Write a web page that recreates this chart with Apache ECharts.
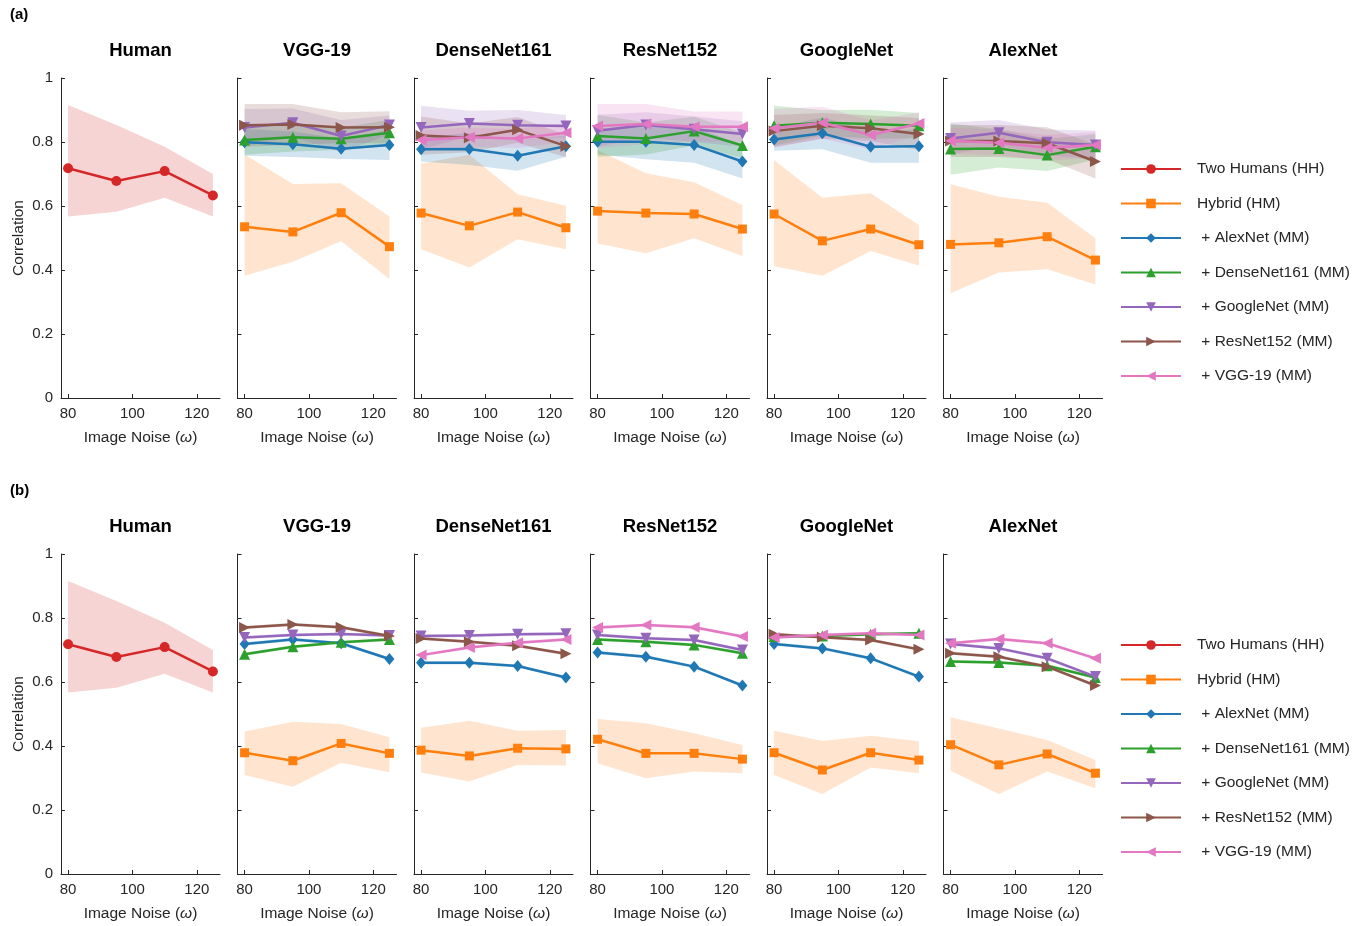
<!DOCTYPE html>
<html>
<head>
<meta charset="utf-8">
<script src="https://cdn.jsdelivr.net/npm/echarts@6/dist/echarts.min.js"></script>
<style>
  html, body { margin: 0; padding: 0; background: #ffffff; }
  #chart { width: 1369px; height: 926px; }
</style>
</head>
<body>
<div id="chart"></div>
<script>
// ---- shared axes / labels ----
const noiseLevels = [80, 95, 110, 125];
const xTicks = [80, 100, 120];
const yTicks = [0, 0.2, 0.4, 0.6, 0.8, 1];
const panelTitles = ['Human', 'VGG-19', 'DenseNet161', 'ResNet152', 'GoogleNet', 'AlexNet'];
const rowLabels = ['(a)', '(b)'];
const legendNames = ['Two Humans (HH)', 'Hybrid (HM)', ' + AlexNet (MM)', ' + DenseNet161 (MM)',
                     ' + GoogleNet (MM)', ' + ResNet152 (MM)', ' + VGG-19 (MM)'];
const mmKeys = ['alexnet', 'densenet', 'googlenet', 'resnet', 'vgg'];

// ---- Two humans (HH), same in both rows ----
const hhMean = [0.718, 0.678, 0.709, 0.633];
const hhLow  = [0.567, 0.582, 0.626, 0.567];
const hhHigh = [0.916, 0.853, 0.785, 0.700];

// ---- row (a) ----
const vgg19A = {
  hm: [0.535, 0.519, 0.579, 0.473], hmLo: [0.382, 0.426, 0.490, 0.372], hmHi: [0.761, 0.669, 0.671, 0.567],
  alexnet: [0.799, 0.793, 0.779, 0.791], alexnetSd: [0.042, 0.040, 0.032, 0.047],
  densenet: [0.806, 0.815, 0.810, 0.829], densenetSd: [0.046, 0.045, 0.035, 0.040],
  googlenet: [0.845, 0.860, 0.819, 0.853], googlenetSd: [0.058, 0.045, 0.050, 0.030],
  resnet: [0.852, 0.855, 0.845, 0.846], resnetSd: [0.067, 0.064, 0.048, 0.050]
};
const densenetA = {
  hm: [0.578, 0.538, 0.581, 0.532], hmLo: [0.465, 0.408, 0.496, 0.465], hmHi: [0.733, 0.760, 0.637, 0.601],
  alexnet: [0.777, 0.778, 0.757, 0.787], alexnetSd: [0.038, 0.050, 0.047, 0.033],
  googlenet: [0.845, 0.858, 0.852, 0.850], googlenetSd: [0.068, 0.040, 0.048, 0.034],
  resnet: [0.820, 0.813, 0.838, 0.787], resnetSd: [0.060, 0.045, 0.040, 0.035],
  vgg: [0.806, 0.815, 0.811, 0.829], vggSd: [0.030, 0.030, 0.030, 0.030]
};
const resnetA = {
  hm: [0.584, 0.578, 0.575, 0.528], hmLo: [0.483, 0.452, 0.499, 0.444], hmHi: [0.775, 0.702, 0.674, 0.603],
  alexnet: [0.801, 0.801, 0.791, 0.739], alexnetSd: [0.040, 0.055, 0.056, 0.053],
  densenet: [0.819, 0.811, 0.834, 0.789], densenetSd: [0.065, 0.050, 0.045, 0.040],
  googlenet: [0.835, 0.853, 0.840, 0.825], googlenetSd: [0.050, 0.040, 0.040, 0.040],
  vgg: [0.850, 0.856, 0.848, 0.848], vggSd: [0.069, 0.063, 0.047, 0.047]
};
const googlenetA = {
  hm: [0.575, 0.491, 0.528, 0.479], hmLo: [0.412, 0.382, 0.459, 0.414], hmHi: [0.744, 0.626, 0.640, 0.541],
  alexnet: [0.808, 0.827, 0.785, 0.787], alexnetSd: [0.035, 0.050, 0.050, 0.052],
  densenet: [0.851, 0.860, 0.856, 0.851], densenetSd: [0.062, 0.040, 0.045, 0.040],
  resnet: [0.834, 0.851, 0.843, 0.825], resnetSd: [0.050, 0.040, 0.040, 0.050],
  vgg: [0.843, 0.860, 0.822, 0.858], vggSd: [0.060, 0.050, 0.045, 0.035]
};
const alexnetA = {
  hm: [0.480, 0.485, 0.504, 0.431], hmLo: [0.327, 0.392, 0.402, 0.355], hmHi: [0.668, 0.629, 0.610, 0.499],
  densenet: [0.778, 0.780, 0.759, 0.785], densenetSd: [0.080, 0.060, 0.050, 0.040],
  googlenet: [0.811, 0.829, 0.799, 0.791], googlenetSd: [0.050, 0.040, 0.040, 0.045],
  resnet: [0.803, 0.803, 0.796, 0.739], resnetSd: [0.050, 0.050, 0.050, 0.053],
  vgg: [0.804, 0.798, 0.782, 0.791], vggSd: [0.040, 0.040, 0.040, 0.040]
};

// ---- row (b) ----
const vgg19B = {
  hm: [0.379, 0.354, 0.408, 0.377], hmLo: [0.309, 0.273, 0.348, 0.318], hmHi: [0.445, 0.476, 0.469, 0.427],
  alexnet: [0.719, 0.733, 0.721, 0.672], alexnetSd: [0.005, 0.005, 0.005, 0.005],
  densenet: [0.687, 0.710, 0.724, 0.733], densenetSd: [0.005, 0.005, 0.005, 0.005],
  googlenet: [0.739, 0.747, 0.750, 0.745], googlenetSd: [0.005, 0.005, 0.005, 0.005],
  resnet: [0.770, 0.780, 0.771, 0.744], resnetSd: [0.005, 0.005, 0.005, 0.005]
};
const densenetB = {
  hm: [0.387, 0.369, 0.393, 0.391], hmLo: [0.317, 0.289, 0.341, 0.339], hmHi: [0.457, 0.479, 0.448, 0.450],
  alexnet: [0.660, 0.660, 0.650, 0.614], alexnetSd: [0.005, 0.005, 0.005, 0.005],
  googlenet: [0.744, 0.745, 0.749, 0.751], googlenetSd: [0.005, 0.005, 0.005, 0.005],
  resnet: [0.736, 0.726, 0.713, 0.688], resnetSd: [0.005, 0.005, 0.005, 0.005],
  vgg: [0.684, 0.708, 0.723, 0.733], vggSd: [0.005, 0.005, 0.005, 0.005]
};
const resnetB = {
  hm: [0.421, 0.377, 0.377, 0.359], hmLo: [0.346, 0.299, 0.320, 0.315], hmHi: [0.484, 0.471, 0.440, 0.403],
  alexnet: [0.692, 0.679, 0.648, 0.589], alexnetSd: [0.005, 0.005, 0.005, 0.005],
  densenet: [0.733, 0.726, 0.716, 0.690], densenetSd: [0.005, 0.005, 0.005, 0.005],
  googlenet: [0.747, 0.737, 0.731, 0.700], googlenetSd: [0.005, 0.005, 0.005, 0.005],
  vgg: [0.770, 0.778, 0.771, 0.742], vggSd: [0.005, 0.005, 0.005, 0.005]
};
const googlenetB = {
  hm: [0.379, 0.325, 0.379, 0.356], hmLo: [0.309, 0.250, 0.333, 0.315], hmHi: [0.448, 0.416, 0.432, 0.415],
  alexnet: [0.719, 0.705, 0.674, 0.617], alexnetSd: [0.005, 0.005, 0.005, 0.005],
  densenet: [0.742, 0.744, 0.749, 0.752], densenetSd: [0.005, 0.005, 0.005, 0.005],
  resnet: [0.749, 0.740, 0.731, 0.702], resnetSd: [0.005, 0.005, 0.005, 0.005],
  vgg: [0.739, 0.747, 0.752, 0.747], vggSd: [0.005, 0.005, 0.005, 0.005]
};
const alexnetB = {
  hm: [0.404, 0.341, 0.375, 0.315], hmLo: [0.323, 0.250, 0.320, 0.268], hmHi: [0.490, 0.455, 0.419, 0.356],
  densenet: [0.664, 0.661, 0.651, 0.614], densenetSd: [0.005, 0.005, 0.005, 0.005],
  googlenet: [0.719, 0.705, 0.674, 0.617], googlenetSd: [0.005, 0.005, 0.005, 0.005],
  resnet: [0.690, 0.679, 0.648, 0.589], resnetSd: [0.005, 0.005, 0.005, 0.005],
  vgg: [0.721, 0.734, 0.721, 0.674], vggSd: [0.005, 0.005, 0.005, 0.005]
};

const modelPanels = [
  [vgg19A, densenetA, resnetA, googlenetA, alexnetA],
  [vgg19B, densenetB, resnetB, googlenetB, alexnetB]
];

// ---- styling ----
const FONT = '"Liberation Sans", Arial, Helvetica, sans-serif';
const INK = '#262626';
const colors = ['#d62728', '#ff7f0e', '#1f77b4', '#2ca02c', '#9467bd', '#8c564b', '#e377c2'];
const bandFills = ['rgba(214,39,40,0.2)', 'rgba(255,127,14,0.2)', 'rgba(31,119,180,0.2)', 'rgba(44,160,44,0.2)',
                   'rgba(148,103,189,0.2)', 'rgba(140,86,75,0.2)', 'rgba(227,119,194,0.2)'];
const symbols = ['circle', 'rect', 'diamond', 'triangle', 'triangle', 'triangle', 'triangle'];
const symbolRotations = [0, 0, 0, 0, 180, -90, 90];
const symbolSizes = [10, 9, [10, 12], 11, 11, 11, 11];

const GRID_LEFT = 61, GRID_STEP = 176.5, GRID_W = 159, GRID_H = 320;
const ROW_TOP = [78, 554];

const grids = [], xAxes = [], yAxes = [], series = [], graphics = [];

function pairs(vals) { return noiseLevels.map((x, i) => [x, vals[i]]); }

// Shaded spread: one polygon through the upper then the lower bound.
function addBand(g, lo, hi, fill) {
  series.push({
    type: 'custom', xAxisIndex: g, yAxisIndex: g, silent: true, z: 1,
    data: noiseLevels.map((x, i) => [x, lo[i], hi[i]]),
    encode: { x: 0, y: [1, 2] },
    renderItem: function (params, api) {
      if (params.dataIndex !== 0) return;
      const n = params.dataInsideLength;
      const upper = [], lower = [];
      for (let i = 0; i < n; i++) {
        upper.push(api.coord([api.value(0, i), api.value(2, i)]));
        lower.push(api.coord([api.value(0, i), api.value(1, i)]));
      }
      return {
        type: 'polygon',
        shape: { points: upper.concat(lower.reverse()) },
        style: { fill: fill, stroke: null }
      };
    }
  });
}

function addLine(g, k, vals) {
  series.push({
    type: 'line', name: legendNames[k], xAxisIndex: g, yAxisIndex: g,
    data: pairs(vals), color: colors[k],
    symbol: symbols[k], symbolSize: symbolSizes[k], symbolRotate: symbolRotations[k],
    showAllSymbol: true, z: 3,
    lineStyle: { width: 2.5, color: colors[k] },
    itemStyle: { color: colors[k] }
  });
}

for (let r = 0; r < 2; r++) {
  graphics.push({
    type: 'text', x: 10, y: ROW_TOP[r] - 63,
    style: { text: rowLabels[r], font: 'bold 15px ' + FONT, fill: '#000', align: 'left', verticalAlign: 'middle' }
  });
  for (let p = 0; p < 6; p++) {
    const g = r * 6 + p;
    const left = GRID_LEFT + p * GRID_STEP;
    grids.push({ left: left, top: ROW_TOP[r], width: GRID_W, height: GRID_H, outerBoundsMode: 'none', containLabel: false });
    xAxes.push({
      gridIndex: g, type: 'value', min: 77.8, max: 127.2,
      axisLine: { show: true, lineStyle: { color: INK, width: 1 } },
      axisTick: { show: true, inside: true, length: 4, customValues: xTicks, lineStyle: { color: INK } },
      axisLabel: { show: true, customValues: xTicks, color: INK, fontSize: 15, fontFamily: FONT, margin: 8 },
      splitLine: { show: false },
      name: 'Image Noise ({w|ω})', nameLocation: 'middle', nameGap: 32,
      nameTextStyle: { color: INK, fontSize: 15.5, fontFamily: FONT,
        rich: { w: { fontStyle: 'italic', fontSize: 15.5, color: INK, fontFamily: FONT } } }
    });
    yAxes.push({
      gridIndex: g, type: 'value', min: 0, max: 1, interval: 0.2,
      axisLine: { show: true, lineStyle: { color: INK, width: 1 } },
      axisTick: { show: true, inside: true, length: 4, lineStyle: { color: INK } },
      axisLabel: { show: p === 0, color: INK, fontSize: 15, fontFamily: FONT, margin: 8 },
      splitLine: { show: false },
      name: p === 0 ? 'Correlation' : '', nameLocation: 'middle', nameGap: 34,
      nameTextStyle: { color: INK, fontSize: 15.5, fontFamily: FONT }
    });
    graphics.push({
      type: 'text', x: left + GRID_W / 2, y: ROW_TOP[r] - 27,
      style: { text: panelTitles[p], font: 'bold 18.5px ' + FONT, fill: '#000', align: 'center', verticalAlign: 'middle' }
    });

    if (p === 0) {
      addBand(g, hhLow, hhHigh, bandFills[0]);
      addLine(g, 0, hhMean);
      continue;
    }
    const d = modelPanels[r][p - 1];
    addBand(g, d.hmLo, d.hmHi, bandFills[1]);
    mmKeys.forEach((key, j) => {
      if (!d[key]) return;
      const lo = d[key].map((m, i) => m - d[key + 'Sd'][i]);
      const hi = d[key].map((m, i) => m + d[key + 'Sd'][i]);
      addBand(g, lo, hi, bandFills[j + 2]);
    });
    addLine(g, 1, d.hm);
    mmKeys.forEach((key, j) => {
      if (d[key]) addLine(g, j + 2, d[key]);
    });
  }
}

const legends = [0, 1].map(r => ({
  data: legendNames, orient: 'vertical', left: 1120, top: ROW_TOP[r] + 83,
  itemWidth: 60, itemHeight: 12, itemGap: 18.5, padding: 0,
  selectedMode: false,
  textStyle: { fontSize: 15.5, color: INK, fontFamily: FONT, lineHeight: 12, padding: [0, 0, 0, 11] }
}));

const chart = echarts.init(document.getElementById('chart'), null, { renderer: 'canvas' });
chart.setOption({
  animation: false,
  backgroundColor: '#ffffff',
  textStyle: { fontFamily: FONT },
  grid: grids,
  xAxis: xAxes,
  yAxis: yAxes,
  legend: legends,
  graphic: graphics,
  series: series
});
</script>
</body>
</html>
